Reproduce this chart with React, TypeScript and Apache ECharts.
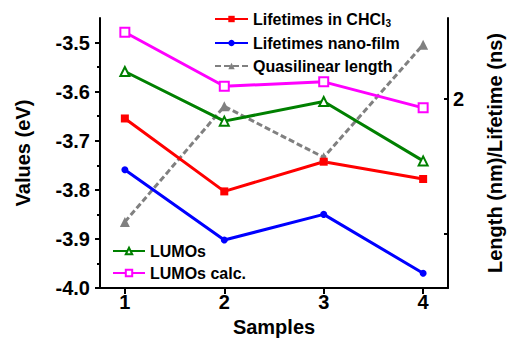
import React, { useEffect, useRef } from "react";
import * as echarts from "echarts";

const samples = [1, 2, 3, 4];
const lifetimesCHCl3 = [1.928, 1.658, 1.768, 1.704];
const lifetimesNanoFilm = [1.738, 1.478, 1.573, 1.355];
const quasilinearLength = [1.545, 1.973, 1.784, 2.201];
const lumos = [-3.559, -3.66, -3.62, -3.741];
const lumosCalc = [-3.479, -3.589, -3.58, -3.633];

const leftTicks = [-4.0, -3.9, -3.8, -3.7, -3.6, -3.5];
const leftMinorTicks = [-3.95, -3.85, -3.75, -3.65, -3.55];
const rightTicks = [1.5, 2];
const rightLabels = [2];
const xTicks = [1, 2, 3, 4];

const FONT = "Arial, 'Liberation Sans', sans-serif";

const pairs = (ys: number[]) => samples.map((x, i) => [x, ys[i]]);

export default function App() {
  const ref = useRef<HTMLDivElement>(null);
  useEffect(() => {
    if (!ref.current) return;
    const chart = echarts.init(ref.current, null, { renderer: "svg" });
    const axisLine = { show: true, lineStyle: { color: "#000", width: 2 } };
    const labelStyle = { color: "#000", fontSize: 20, fontWeight: "bold" as const, fontFamily: FONT };
    const nameStyle = { color: "#000", fontSize: 20, fontWeight: "bold" as const, fontFamily: FONT };
    chart.setOption({
      animation: false,
      backgroundColor: "#fff",
      grid: { left: 100, right: 50, top: 18, bottom: 52 },
      xAxis: {
        type: "value",
        min: 0.75,
        max: 4.25,
        name: "Samples",
        nameLocation: "middle",
        nameGap: 16,
        nameTextStyle: nameStyle,
        axisLine,
        splitLine: { show: false },
        axisTick: { show: true, length: 6, lineStyle: { width: 2, color: "#000" }, customValues: xTicks },
        axisLabel: { ...labelStyle, margin: 4, customValues: xTicks, formatter: (v: number) => String(v) },
      },
      yAxis: [
        {
          type: "value",
          position: "left",
          min: -4.0,
          max: -3.45,
          name: "Values (eV)",
          nameLocation: "middle",
          nameRotate: 90,
          nameGap: 67,
          nameTextStyle: nameStyle,
          axisLine,
          splitLine: { show: false },
          axisTick: { show: true, length: 5, lineStyle: { width: 2, color: "#000" }, customValues: leftTicks },
          axisLabel: { ...labelStyle, margin: 10, customValues: leftTicks, formatter: (v: number) => v.toFixed(1) },
        },
        {
          type: "value",
          position: "right",
          min: 1.3,
          max: 2.3,
          name: "Length (nm)/Lifetime (ns)",
          nameLocation: "middle",
          nameRotate: 90,
          nameGap: 37,
          nameTextStyle: nameStyle,
          axisLine,
          splitLine: { show: false },
          axisTick: { show: true, inside: true, length: 4, lineStyle: { width: 2, color: "#000" }, customValues: rightTicks },
          axisLabel: { ...labelStyle, margin: 5, customValues: rightLabels, formatter: (v: number) => String(v) },
        },
        {
          type: "value",
          position: "left",
          min: -4.0,
          max: -3.45,
          axisLine: { show: false },
          splitLine: { show: false },
          axisTick: { show: true, length: 3, lineStyle: { width: 2, color: "#000" }, customValues: leftMinorTicks },
          axisLabel: { show: false },
        },
      ],
      legend: [
        {
          orient: "vertical",
          left: 209,
          top: 6,
          itemWidth: 33,
          itemHeight: 8,
          itemGap: 7,
          data: ["Lifetimes in CHCl3", "Lifetimes nano-film", "Quasilinear length"],
          formatter: (name: string) => (name === "Lifetimes in CHCl3" ? "Lifetimes in CHCl{sub|3}" : name),
          textStyle: {
            color: "#000",
            fontSize: 16,
            fontWeight: "bold",
            fontFamily: FONT,
            rich: { sub: { fontSize: 10, fontWeight: "bold", fontFamily: FONT, color: "#000", padding: [8, 0, 0, 0] } },
          },
        },
        {
          orient: "vertical",
          left: 107,
          top: 238,
          itemWidth: 32,
          itemHeight: 8,
          itemGap: 6,
          data: ["LUMOs", "LUMOs calc."],
          textStyle: { color: "#000", fontSize: 16, fontWeight: "bold", fontFamily: FONT },
        },
      ],
      series: [
        {
          name: "Quasilinear length",
          type: "line",
          yAxisIndex: 1,
          data: pairs(quasilinearLength),
          symbol: "triangle",
          symbolSize: 10,
          color: "#808080",
          lineStyle: { color: "#808080", width: 3, type: [6, 3] },
          itemStyle: { color: "#808080" },
        },
        {
          name: "Lifetimes in CHCl3",
          type: "line",
          yAxisIndex: 1,
          data: pairs(lifetimesCHCl3),
          symbol: "rect",
          symbolSize: 8,
          color: "#ff0000",
          lineStyle: { color: "#ff0000", width: 3 },
          itemStyle: { color: "#ff0000" },
        },
        {
          name: "Lifetimes nano-film",
          type: "line",
          yAxisIndex: 1,
          data: pairs(lifetimesNanoFilm),
          symbol: "circle",
          symbolSize: 7,
          color: "#0000ff",
          lineStyle: { color: "#0000ff", width: 3 },
          itemStyle: { color: "#0000ff" },
        },
        {
          name: "LUMOs",
          type: "line",
          yAxisIndex: 0,
          data: pairs(lumos),
          symbol: "emptyTriangle",
          symbolSize: 9,
          color: "#008000",
          lineStyle: { color: "#008000", width: 3 },
          itemStyle: { color: "#008000", borderWidth: 1.5 },
        },
        {
          name: "LUMOs calc.",
          type: "line",
          yAxisIndex: 0,
          data: pairs(lumosCalc),
          symbol: "emptyRect",
          symbolSize: 9,
          color: "#ff00ff",
          lineStyle: { color: "#ff00ff", width: 3 },
          itemStyle: { color: "#ff00ff", borderWidth: 1.5 },
        },
      ],
    });
    return () => chart.dispose();
  }, []);
  return <div ref={ref} style={{ position: "fixed", left: 0, top: 0, width: 513, height: 342 }} />;
}
